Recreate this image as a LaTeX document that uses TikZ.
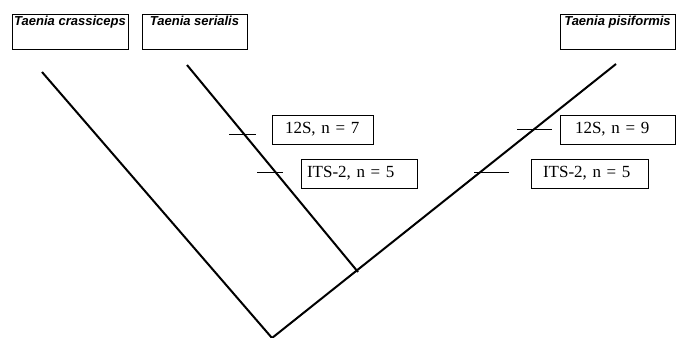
\documentclass[tikz,border=0pt]{standalone}
\usepackage{fontspec}
\setmainfont{Liberation Serif}
\newfontfamily\arialfont{Liberation Sans}

\tikzset{
  branch/.style={line width=2pt},
  taxon/.style={draw, line width=0.9pt, inner sep=0pt, minimum height=35pt},
  taxonname/.style={anchor=north, inner sep=2pt, font=\arialfont\bfseries\itshape\fontsize{13}{15}\selectfont},
  marker/.style={draw, line width=0.9pt, inner ysep=0pt, minimum height=29pt, align=left, font=\fontsize{17}{19}\selectfont},
  tick/.style={line width=0.7pt},
}

\begin{document}
\begin{tikzpicture}[x=1pt,y=-1pt]
  \useasboundingbox (0,0) rectangle (676,337);
  % taxa
  \node[taxon, minimum width=116pt, label={[taxonname]north:Taenia crassiceps}] (crassiceps) at (70,31.5) {};
  \node[taxon, minimum width=105pt, label={[taxonname]north:Taenia serialis}] (serialis) at (194.5,31.5) {};
  \node[taxon, minimum width=115pt, label={[taxonname]north:Taenia pisiformis}] (pisiformis) at (617.5,31.5) {};
  % tree
  \coordinate (tipC) at (42,72);
  \coordinate (tipS) at (187,65);
  \coordinate (tipP) at (616,64);
  \coordinate (split) at (358,272);
  \coordinate (root) at (272,338);
  \draw[branch] (tipC) -- (root) -- (tipP);
  \draw[branch] (tipS) -- (split);
  % markers
  \foreach \xa/\xb/\y in {229/256/134, 257/283/172, 517/552/129, 474/509/172}
    \draw[tick] (\xa,\y) -- (\xb,\y);
  \node[marker, inner xsep=13pt, text width=75pt] (s12S) at (322.5,129.5) {12S, n = 7};
  \node[marker, inner xsep=6pt, text width=104pt] (sITS) at (359,173.5) {ITS-2, n = 5};
  \node[marker, inner xsep=15pt, text width=85pt] (p12S) at (617.5,129.5) {12S, n = 9};
  \node[marker, inner xsep=12pt, text width=93pt] (pITS) at (589.5,173.5) {ITS-2, n = 5};
\end{tikzpicture}
\end{document}
